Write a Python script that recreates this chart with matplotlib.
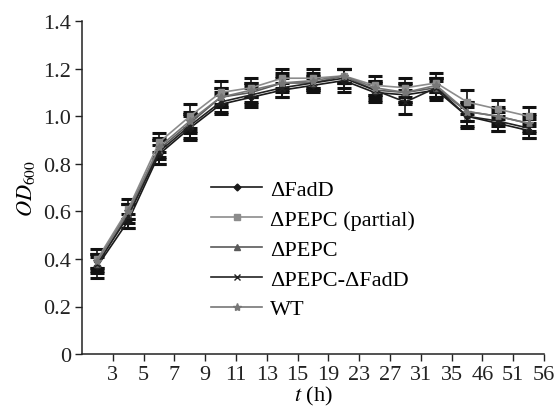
import matplotlib
matplotlib.use("Agg")
import matplotlib.pyplot as plt
import numpy as np

# time labels (h) and OD600 readings per strain
t_labels = ['3', '5', '7', '9', '11', '13', '15', '19', '23', '27', '31', '35', '46', '51', '56']

fadD = [0.37, 0.56, 0.84, 0.95, 1.05, 1.08, 1.11, 1.13, 1.15, 1.10, 1.09, 1.11, 1.00, 0.97, 0.94]
pepc_partial = [0.40, 0.61, 0.89, 1.00, 1.10, 1.12, 1.16, 1.16, 1.17, 1.13, 1.12, 1.14, 1.06, 1.03, 1.00]
pepc = [0.38, 0.59, 0.86, 0.97, 1.08, 1.10, 1.14, 1.14, 1.17, 1.11, 1.10, 1.12, 1.02, 1.00, 0.97]
pepc_fadD = [0.38, 0.58, 0.85, 0.96, 1.06, 1.09, 1.12, 1.14, 1.16, 1.11, 1.06, 1.12, 1.00, 0.98, 0.95]
wt = [0.39, 0.60, 0.87, 0.98, 1.08, 1.11, 1.14, 1.15, 1.17, 1.12, 1.10, 1.13, 1.02, 1.00, 0.97]

fadD_err = [0.05, 0.03, 0.04, 0.05, 0.04, 0.04, 0.03, 0.03, 0.05, 0.04, 0.04, 0.04, 0.04, 0.03, 0.03]
pepc_partial_err = [0.04, 0.04, 0.04, 0.05, 0.05, 0.04, 0.04, 0.04, 0.03, 0.04, 0.04, 0.04, 0.05, 0.04, 0.04]
pepc_err = [0.03, 0.04, 0.04, 0.04, 0.04, 0.04, 0.04, 0.03, 0.03, 0.04, 0.04, 0.04, 0.04, 0.04, 0.04]
pepc_fadD_err = [0.04, 0.05, 0.05, 0.05, 0.04, 0.04, 0.04, 0.03, 0.04, 0.03, 0.05, 0.04, 0.05, 0.04, 0.04]
wt_err = [0.03, 0.03, 0.04, 0.04, 0.04, 0.03, 0.03, 0.03, 0.03, 0.03, 0.04, 0.03, 0.04, 0.03, 0.03]

plt.rcParams['font.family'] = ['Liberation Serif', 'DejaVu Serif']
plt.rcParams['mathtext.fontset'] = 'stix'
FS = 16

fig = plt.figure(figsize=(5.58, 4.10), dpi=100)
ax = fig.add_axes([0.147, 0.134, 0.828, 0.812])

x = np.arange(len(t_labels)) + 0.5

series = [
    (fadD, fadD_err, '\u0394FadD', '#1a1a1a', 'D', 3.5),
    (pepc_partial, pepc_partial_err, '\u0394PEPC (partial)', '#8c8c8c', 's', 5),
    (pepc, pepc_err, '\u0394PEPC', '#5a5a5a', '^', 5),
    (pepc_fadD, pepc_fadD_err, '\u0394PEPC-\u0394FadD', '#222222', 'x', 5),
    (wt, wt_err, 'WT', '#777777', '*', 6),
]

for vals, err, name, col, mk, ms in series:
    ax.errorbar(x, vals, yerr=err, color=col, marker=mk, markersize=ms,
                linewidth=1.2, elinewidth=1.2, capsize=5, capthick=2.2,
                ecolor='#111111', label=name)

ax.set_xlim(0, len(t_labels))
ax.set_ylim(0, 1.4)
ax.set_xticks(np.arange(1, len(t_labels) + 1))
ax.set_xticklabels(t_labels)
ax.set_yticks(np.arange(0, 1.41, 0.2))
ax.set_yticklabels(['0', '0.2', '0.4', '0.6', '0.8', '1.0', '1.2', '1.4'])
ax.tick_params(direction='out', length=5, width=1, labelsize=FS, colors='#222222', pad=3)

ax.spines['top'].set_visible(False)
ax.spines['right'].set_visible(False)
for s in ['left', 'bottom']:
    ax.spines[s].set_linewidth(1.1)
    ax.spines[s].set_color('#222222')

ax.set_xlabel('$t$ (h)', fontsize=FS, labelpad=0)
ax.set_ylabel('$OD_{600}$', fontsize=FS, labelpad=4)

# legend handles without error bars
handles, labels = ax.get_legend_handles_labels()
handles = [h[0] for h in handles]
ax.legend(handles, labels, loc='upper left', bbox_to_anchor=(0.236, 0.585),
          frameon=False, fontsize=FS, handlelength=2.3, labelspacing=0.42,
          handletextpad=0.35, borderpad=0.4)

fig.savefig('out.png', dpi=100)
